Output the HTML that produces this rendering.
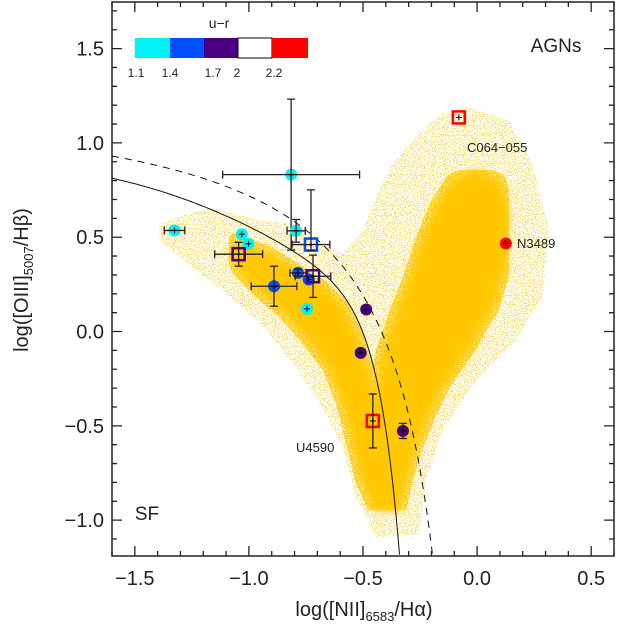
<!DOCTYPE html>
<html><head><meta charset="utf-8"><style>
html,body{margin:0;padding:0;background:#fff;}
svg{display:block;font-family:"Liberation Sans",sans-serif;}
</style></head><body>
<svg id="chart" width="617" height="633" viewBox="0 0 617 633">
<defs><clipPath id="clip"><rect x="112" y="2" width="502" height="554"/></clipPath>
<filter id="speck" x="0" y="0" width="100%" height="100%">
<feTurbulence type="fractalNoise" baseFrequency="0.9" numOctaves="1" seed="3" result="n"/>
<feColorMatrix in="n" type="matrix" values="0 0 0 0 0  0 0 0 0 0  0 0 0 0 0  0 0 0 6 -3.1" result="m"/>
<feComposite in="SourceGraphic" in2="m" operator="in"/></filter>
<filter id="speck2" x="0" y="0" width="100%" height="100%">
<feTurbulence type="fractalNoise" baseFrequency="0.9" numOctaves="1" seed="7" result="n"/>
<feColorMatrix in="n" type="matrix" values="0 0 0 0 0  0 0 0 0 0  0 0 0 0 0  0 0 0 6 -2.2" result="m"/>
<feComposite in="SourceGraphic" in2="m" operator="in"/></filter>
<filter id="blur1"><feGaussianBlur stdDeviation="4"/></filter></defs>
<g id="cloud" clip-path="url(#clip)"></g>
<g id="curves" clip-path="url(#clip)"></g>
<g id="marks"></g>
<g id="axes"></g>
<g id="labels">
<text x="556" y="52" font-size="19" text-anchor="middle" fill="#222">AGNs</text>
<text x="147" y="520" font-size="19" text-anchor="middle" fill="#222">SF</text>
<text x="467" y="152" font-size="13" text-anchor="start" fill="#222">C064−055</text>
<text x="517" y="248" font-size="13" fill="#222">N3489</text>
<text x="296" y="452" font-size="13" fill="#222">U4590</text>
</g>
<g id="colorbar">
<text x="219" y="28" font-size="14" text-anchor="middle" fill="#222">u−r</text>
<rect x="135" y="38" width="35" height="20" fill="#00F2F2"/>
<rect x="170" y="38" width="34" height="20" fill="#0050FF"/>
<rect x="204" y="38" width="34" height="20" fill="#4B0082"/>
<rect x="238" y="38" width="34" height="20" fill="#fff" stroke="#000" stroke-width="1"/>
<rect x="272" y="38" width="36" height="20" fill="#FF0000"/>
<g font-size="12" fill="#222" text-anchor="middle">
<text x="136" y="77">1.1</text>
<text x="170" y="77">1.4</text>
<text x="213" y="77">1.7</text>
<text x="237" y="77">2</text>
<text x="274" y="77">2.2</text>
</g></g>
<text x="364" y="616" font-size="20" text-anchor="middle" fill="#222">log([NII]<tspan font-size="13" dy="5">6583</tspan><tspan dy="-5">/Hα)</tspan></text>
<text transform="translate(28,280) rotate(-90)" font-size="20" text-anchor="middle" fill="#222">log([OIII]<tspan font-size="13" dy="5">5007</tspan><tspan dy="-5">/Hβ)</tspan></text>
</svg>
<script>
const xTicks=[-1.5,-1.0,-0.5,0.0,0.5];
const yTicks=[-1.0,-0.5,0.0,0.5,1.0,1.5];
const names=["c1","c2","c3","c4","c5","c6","b7","p8","b9","b10","b11","p12","p13","p14","r15","p16","r17","r18"];
const xs=[-1.326,-0.815,-0.793,-1.031,-1.002,-0.745,-0.728,-1.045,-0.89,-0.785,-0.738,-0.719,-0.486,-0.51,-0.457,-0.325,-0.08,0.126];
const ys=[0.536,0.832,0.534,0.516,0.465,0.12,0.461,0.41,0.24,0.311,0.276,0.293,0.117,-0.113,-0.474,-0.527,1.135,0.467];
const xerr=[0.045,0.30,0.04,0,0,0,0.083,0.105,0.10,0.035,0,0.078,0,0,0,0,0,0];
const yerrUp=[0,0.40,0.06,0,0,0,0.29,0.063,0.106,0.02,0,0.112,0,0,0.143,0.04,0,0];
const yerrDn=[0,0.40,0.06,0,0,0,0.03,0.063,0.106,0.02,0,0.112,0,0,0.143,0.04,0,0];
const colors=["#00F2F2","#00F2F2","#00F2F2","#00F2F2","#00F2F2","#00F2F2","#0050FF","#4B0082","#0050FF","#0050FF","#0050FF","#4B0082","#4B0082","#4B0082","#FF0000","#4B0082","#FF0000","#FF0000"];
const shapes=["c","c","c","c","c","c","s","s","c","c","c","s","c","c","s","c","s","c"];
const NS="http://www.w3.org/2000/svg";
const X0=112,X1=614,Y0=2,Y1=556,xmin=-1.6,xmax=0.6,ymin=-1.19,ymax=1.747;
const sx=v=>X0+(v-xmin)/(xmax-xmin)*(X1-X0);
const sy=v=>Y1-(v-ymin)/(ymax-ymin)*(Y1-Y0);
function mk(t,a,p){const e=document.createElementNS(NS,t);for(const k in a)e.setAttribute(k,a[k]);p.appendChild(e);return e;}
const cloud=document.getElementById('cloud');
const halo=[[-1.393,0.571],[-1.174,0.659],[-0.955,0.589],[-0.794,0.571],[-0.707,0.483],[-0.59,0.412],[-0.502,0.536],[-0.444,0.712],[-0.371,0.889],[-0.269,1.03],[-0.152,1.154],[-0.035,1.189],[0.14,1.119],[0.242,0.889],[0.316,0.536],[0.286,0.182],[0.169,-0.048],[-0.006,-0.26],[-0.152,-0.525],[-0.225,-0.79],[-0.254,-1.073],[-0.444,-1.09],[-0.531,-0.879],[-0.59,-0.613],[-0.677,-0.401],[-0.794,-0.189],[-0.911,-0.012],[-1.028,0.129],[-1.174,0.27],[-1.32,0.412],[-1.393,0.483]];
const core=[[-1.058,0.483],[-0.911,0.412],[-0.794,0.323],[-0.677,0.235],[-0.59,0.129],[-0.531,-0.012],[-0.488,-0.171],[-0.444,-0.348],[-0.415,-0.118],[-0.356,0.094],[-0.298,0.27],[-0.24,0.483],[-0.181,0.659],[-0.108,0.8],[-0.006,0.854],[0.096,0.8],[0.14,0.624],[0.126,0.359],[0.067,0.129],[-0.035,-0.083],[-0.137,-0.26],[-0.21,-0.436],[-0.269,-0.613],[-0.312,-0.79],[-0.342,-0.949],[-0.444,-0.949],[-0.502,-0.79],[-0.546,-0.578],[-0.59,-0.366],[-0.648,-0.189],[-0.736,-0.048],[-0.838,0.094],[-0.94,0.2],[-1.028,0.306],[-1.087,0.412]];
const pts=a=>a.map(p=>sx(p[0]).toFixed(1)+','+sy(p[1]).toFixed(1)).join(' ');
let e;
e=mk('polygon',{points:pts(halo),fill:'#FFC800',filter:'url(#speck)'},cloud);


e=mk('polygon',{points:pts(core),fill:'#FFC800',stroke:'#FFC800','stroke-width':14,'stroke-linejoin':'round',filter:'url(#speck2)'},cloud);


e=mk('polygon',{points:pts(core),fill:'#FFC800',filter:'url(#blur1)'},cloud);


const curves=document.getElementById('curves');
let d1='',d2='';
for(let x=-1.6;x<=0.0;x+=0.005){const y=(-30.787+1.1358*x+0.27297*x*x)*Math.tanh(5.7409*x)-31.093;if(y<ymin-0.05)break;d1+=(d1?'L':'M')+sx(x).toFixed(1)+','+sy(y).toFixed(1);}
for(let x=-1.6;x<0.04;x+=0.005){const y=0.61/(x-0.05)+1.3;if(y<ymin-0.05)break;d2+=(d2?'L':'M')+sx(x).toFixed(1)+','+sy(y).toFixed(1);}
e=mk('path',{d:d1,fill:'none',stroke:'#111','stroke-width':1},curves);


e=mk('path',{d:d2,fill:'none',stroke:'#111','stroke-width':1,'stroke-dasharray':'7,6'},curves);


const marks=document.getElementById('marks');
for(let i=0;i<xs.length;i++){
 const g=mk('g',{},marks);
 
 
 const cx=sx(xs[i]),cy=sy(ys[i]);
 if(shapes[i]==='c'){mk('circle',{cx,cy,r:6,fill:colors[i]},g);}
 else{mk('rect',{x:cx-6,y:cy-6,width:12,height:12,fill:'none',stroke:colors[i],'stroke-width':2.5},g);}
 const st={stroke:'#222','stroke-width':1.3};
 if(xerr[i]>0){const a=sx(xs[i]-xerr[i]),b=sx(xs[i]+xerr[i]);mk('line',Object.assign({x1:a,x2:b,y1:cy,y2:cy},st),g);mk('line',Object.assign({x1:a,x2:a,y1:cy-4,y2:cy+4},st),g);mk('line',Object.assign({x1:b,x2:b,y1:cy-4,y2:cy+4},st),g);}
 if(yerrUp[i]>0||yerrDn[i]>0){const a=sy(ys[i]+yerrUp[i]),b=sy(ys[i]-yerrDn[i]);mk('line',Object.assign({x1:cx,x2:cx,y1:a,y2:b},st),g);mk('line',Object.assign({x1:cx-4,x2:cx+4,y1:a,y2:a},st),g);mk('line',Object.assign({x1:cx-4,x2:cx+4,y1:b,y2:b},st),g);}
 mk('line',{x1:cx-3,x2:cx+3,y1:cy,y2:cy,stroke:'#000','stroke-width':1},g);
 mk('line',{x1:cx,x2:cx,y1:cy-3,y2:cy+3,stroke:'#000','stroke-width':1},g);
}
const ax=document.getElementById('axes');
e=mk('rect',{x:X0,y:Y0,width:X1-X0,height:Y1-Y0,fill:'none',stroke:'#222','stroke-width':1.5},ax);


let td='';
for(let k=-16;k<=6;k++){const v=k/10,x=sx(v),L=(k%5===0)?10:5;td+=`M${x},${Y1}v${-L}M${x},${Y0}v${L}`;}
for(let k=-11;k<=17;k++){const v=k/10,y=sy(v),L=(k%5===0)?10:5;td+=`M${X0},${y}h${L}M${X1},${y}h${-L}`;}
e=mk('path',{d:td,stroke:'#222','stroke-width':1.3,fill:'none'},ax);


xTicks.forEach(v=>{const t=mk('text',{x:sx(v),y:585,'font-size':20,'text-anchor':'middle',fill:'#222'},ax);t.textContent=(v<0?'−':'')+Math.abs(v).toFixed(1);

});
yTicks.forEach(v=>{const t=mk('text',{x:104,y:sy(v)+7,'font-size':20,'text-anchor':'end',fill:'#222'},ax);t.textContent=(v<0?'−':'')+Math.abs(v).toFixed(1);

});
</script>
</body></html>
